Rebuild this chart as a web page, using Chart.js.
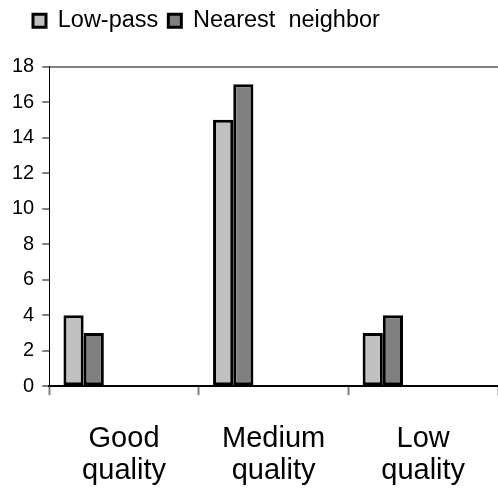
<!DOCTYPE html>
<html>
<head>
<meta charset="utf-8">
<script src="https://cdn.jsdelivr.net/npm/chart.js@4/dist/chart.umd.min.js"></script>
<style>
  html, body { margin: 0; padding: 0; background: #fff; }
  #wrap { width: 498px; height: 495px; }
</style>
</head>
<body>
<div id="wrap"><canvas id="c"></canvas></div>
<script>
const categories = [["Good", "quality"], ["Medium", "quality"], ["Low", "quality"]];
const seriesNames = ["Low-pass", "Nearest  neighbor"];
const lowPass = [4, 15, 3];
const nearestNeighbor = [3, 17, 4];
const yTicks = [0, 2, 4, 6, 8, 10, 12, 14, 16, 18];
// empty placeholder series (the original chart reserves slots for them)
const emptySeries = [null, null, null];

const FONT = "'Liberation Sans', Arial, sans-serif";

const legendShift = {
  id: 'legendShift',
  afterLayout(chart) { chart.legend.left += 19; chart.legend.top -= 24; }
};

const datasets = [
  { label: seriesNames[0], data: lowPass, backgroundColor: '#c0c0c0' },
  { label: seriesNames[1], data: nearestNeighbor, backgroundColor: '#808080' }
];
for (let i = 0; i < 4; i++) datasets.push({ label: 'spacer' + i, data: emptySeries, backgroundColor: 'transparent' });
datasets.forEach(d => {
  d.borderColor = '#000';
  d.borderWidth = 3;
  d.borderSkipped = false;
  d.categoryPercentage = 0.81;
  d.barPercentage = 1.0;
});

new Chart(document.getElementById('c'), {
  type: 'bar',
  data: { labels: categories, datasets },
  plugins: [legendShift],
  options: {
    responsive: true,
    maintainAspectRatio: false,
    animation: false,
    layout: { padding: { left: 4, right: 0, top: 23, bottom: -20 } },
    plugins: {
      tooltip: { enabled: false },
      legend: {
        position: 'top',
        align: 'start',
        labels: {
          filter: (item) => item.datasetIndex < 2,
          boxWidth: 13,
          boxHeight: 13,
          padding: 10,
          color: '#000',
          font: { family: FONT, size: 23.5 }
        }
      }
    },
    scales: {
      x: {
        border: { display: true, color: '#000', width: 2 },
        grid: { display: true, drawOnChartArea: false, drawTicks: true, tickLength: 9, tickColor: '#808080', tickWidth: 2 },
        ticks: {
          color: '#000',
          padding: 28,
          font: { family: FONT, size: 29, lineHeight: 1.1 },
          maxRotation: 0
        }
      },
      y: {
        min: 0, max: 18,
        afterBuildTicks: (axis) => { axis.ticks = yTicks.map(v => ({ value: v })); },
        border: { display: true, color: '#000', width: 1 },
        grid: {
          drawTicks: true,
          tickLength: 7,
          tickColor: '#808080',
          color: (ctx) => (ctx.tick && ctx.tick.value === 18) ? '#808080' : 'rgba(0,0,0,0)',
          lineWidth: 2
        },
        ticks: {
          color: '#000',
          padding: 8,
          font: { family: FONT, size: 20 }
        }
      }
    }
  }
});
</script>
</body>
</html>
